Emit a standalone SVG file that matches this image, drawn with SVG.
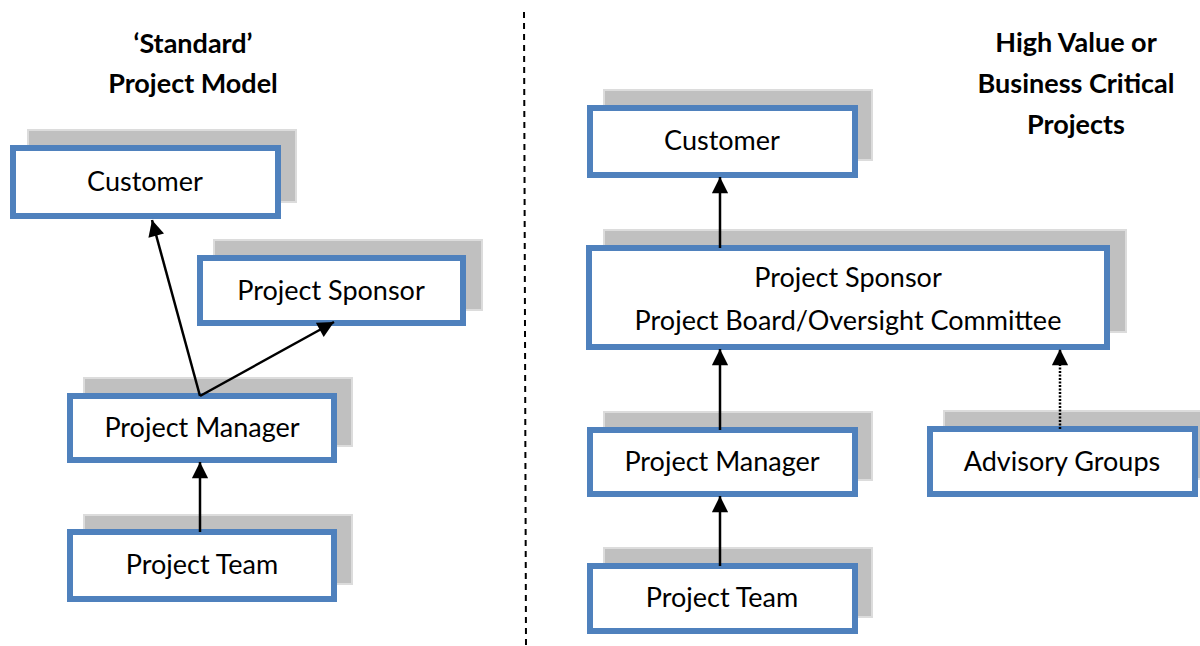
<svg xmlns="http://www.w3.org/2000/svg" width="1200" height="646" viewBox="0 0 1200 646">
<style>
.sh{fill:#c0c0c0;stroke:#dcdcdc;stroke-width:2}
.bx{fill:#fff;stroke:#4f81bd;stroke-width:6}
.t{font-family:Lato,"Open Sans",sans-serif;font-size:27px;fill:#000;text-anchor:middle}
.h{font-family:Lato,"Open Sans",sans-serif;font-size:27px;font-weight:bold;fill:#000;text-anchor:middle}
.c{stroke:#000;stroke-width:2.5;fill:none}
</style>
<defs>
<marker id="ah" viewBox="0 0 10 10" refX="10" refY="5" markerWidth="7" markerHeight="6.5" orient="auto" markerUnits="strokeWidth">
<path d="M0,0 L10,5 L0,10 z" fill="#000"/>
</marker>
</defs>
<rect width="1200" height="646" fill="#fff"/>
<line x1="524" y1="12" x2="526" y2="646" stroke="#000" stroke-width="2" stroke-dasharray="6,5"/>
<g id="titles">
<text class="h" x="193" y="53">‘Standard’</text>
<text class="h" x="193" y="93">Project Model</text>
<text class="h" x="1076" y="52">High Value or</text>
<text class="h" x="1076" y="93">Business Critical</text>
<text class="h" x="1076" y="134">Projects</text>
</g>
<g id="l-customer">
<rect class="sh" x="28" y="130" width="268" height="72"/>
<rect class="bx" x="13" y="148" width="265" height="68"/>
<text class="t" x="145" y="191">Customer</text>
</g>
<g id="l-sponsor">
<rect class="sh" x="214" y="240" width="268" height="70"/>
<rect class="bx" x="200" y="258" width="263" height="65"/>
<text class="t" x="331" y="300">Project Sponsor</text>
</g>
<g id="l-manager">
<rect class="sh" x="84" y="378" width="268" height="68"/>
<rect class="bx" x="70" y="396" width="264" height="64"/>
<text class="t" x="202" y="437">Project Manager</text>
</g>
<g id="l-team">
<rect class="sh" x="84" y="515" width="268" height="69"/>
<rect class="bx" x="70" y="532" width="264" height="67"/>
<text class="t" x="202" y="574">Project Team</text>
</g>
<g id="r-customer">
<rect class="sh" x="604" y="90" width="268" height="70"/>
<rect class="bx" x="590" y="108" width="265" height="67"/>
<text class="t" x="722" y="150">Customer</text>
</g>
<g id="r-sponsor">
<rect class="sh" x="604" y="230" width="522" height="102"/>
<rect class="bx" x="589" y="248" width="518" height="99"/>
<text class="t" x="848" y="287">Project Sponsor</text>
<text class="t" x="848" y="330">Project Board/Oversight Committee</text>
</g>
<g id="r-manager">
<rect class="sh" x="604" y="412" width="268" height="68"/>
<rect class="bx" x="590" y="430" width="265" height="64"/>
<text class="t" x="722" y="471">Project Manager</text>
</g>
<g id="r-advisory">
<rect class="sh" x="944" y="411" width="262" height="68"/>
<rect class="bx" x="930" y="429" width="265" height="65"/>
<text class="t" x="1062" y="471">Advisory Groups</text>
</g>
<g id="r-team">
<rect class="sh" x="604" y="548" width="268" height="69"/>
<rect class="bx" x="590" y="566" width="265" height="65"/>
<text class="t" x="722" y="607">Project Team</text>
</g>
<g id="connectors">
<line class="c" x1="200" y1="396" x2="152" y2="220" marker-end="url(#ah)"/>
<line class="c" x1="200" y1="396" x2="334" y2="322" marker-end="url(#ah)"/>
<line class="c" x1="200" y1="532" x2="200" y2="462" marker-end="url(#ah)"/>
<line class="c" x1="720" y1="248" x2="720" y2="177" marker-end="url(#ah)"/>
<line class="c" x1="720" y1="430" x2="720" y2="349" marker-end="url(#ah)"/>
<line class="c" x1="720" y1="566" x2="720" y2="496" marker-end="url(#ah)"/>
<line class="c" x1="1060" y1="429" x2="1060" y2="349" stroke-dasharray="2,1.5" marker-end="url(#ah)"/>
</g>
</svg>
